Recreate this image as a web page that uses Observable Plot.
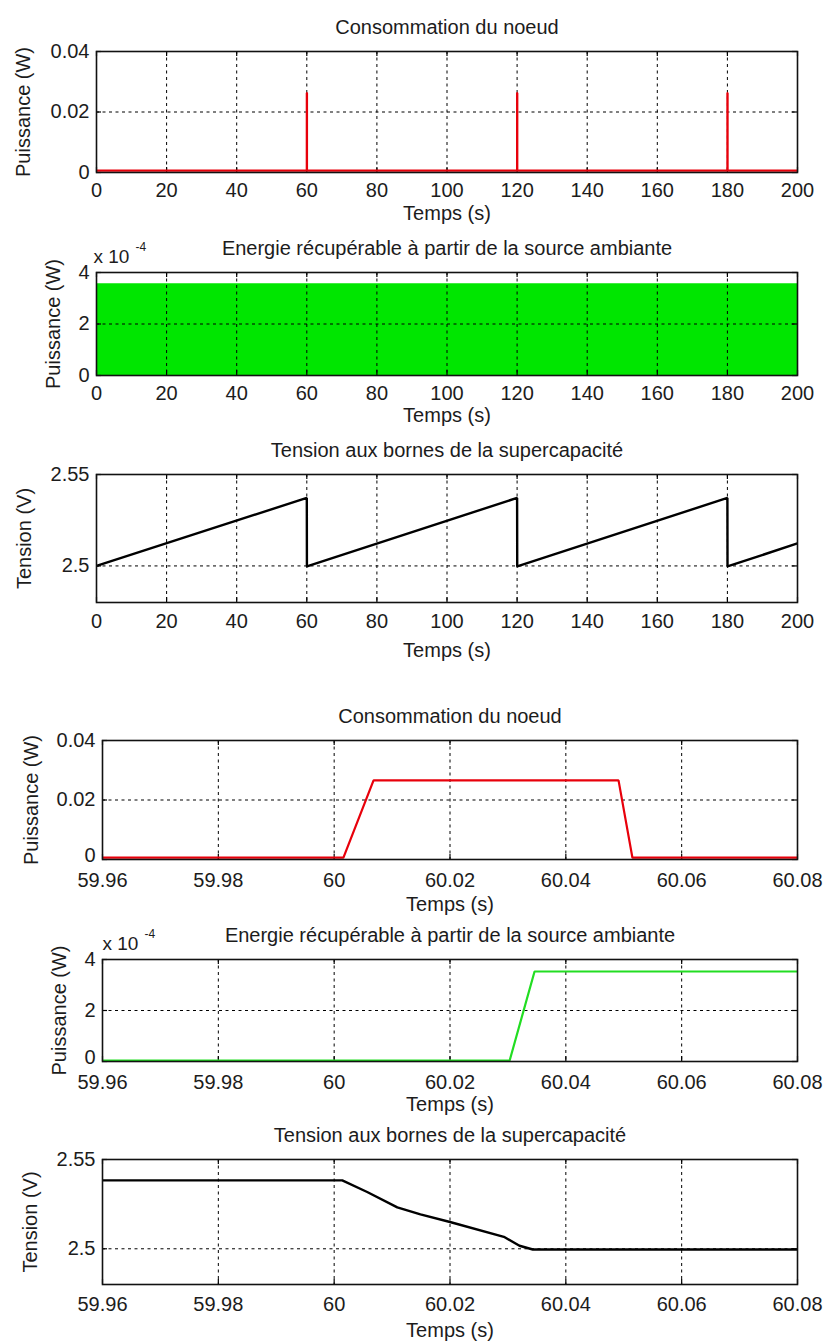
<!DOCTYPE html>
<html>
<head>
<meta charset="utf-8">
<script src="https://cdn.jsdelivr.net/npm/d3@7"></script>
<script src="https://cdn.jsdelivr.net/npm/@observablehq/plot@0.6"></script>
<style>
  html, body { margin: 0; padding: 0; background: #fff; }
  #root { position: relative; width: 824px; height: 1342px; background: #fff; overflow: hidden; }
  #root svg { position: absolute; left: 0; }
</style>
</head>
<body>
<div id="root"></div>
<script>
// ---------- DATA ----------
const titles = ["Consommation du noeud", "Energie récupérable à partir de la source ambiante", "Tension aux bornes de la supercapacité"];
const xLabel = "Temps (s)";
const yLabelP = "Puissance (W)";
const yLabelV = "Tension (V)";
const expLabelBase = "x 10";
const expLabelSup = "-4";

// Top (0–200 s) time axis
const xTicksFull = [0, 20, 40, 60, 80, 100, 120, 140, 160, 180, 200];
const xTickLabelsFull = ["0", "20", "40", "60", "80", "100", "120", "140", "160", "180", "200"];
// Zoomed (59.96–60.08 s) time axis
const xTicksZoom = [59.96, 59.98, 60, 60.02, 60.04, 60.06, 60.08];
const xTickLabelsZoom = ["59.96", "59.98", "60", "60.02", "60.04", "60.06", "60.08"];

const yTicksConso = [0, 0.02, 0.04];
const yTickLabelsConso = ["0", "0.02", "0.04"];
const yTicksHarv = [0, 0.0002, 0.0004];
const yTickLabelsHarv = ["0", "2", "4"];
const yTicksVolt = [2.5, 2.55];
const yTickLabelsVolt = ["2.5", "2.55"];

// Consommation du noeud, 0–200 s
const consoT = [0, 60.0016, 60.0068, 60.0491, 60.0515, 120.0016, 120.0068, 120.0491, 120.0515, 180.0016, 180.0068, 180.0491, 180.0515, 200];
const consoP = [0.0006, 0.0006, 0.0263, 0.0263, 0.0006, 0.0006, 0.0263, 0.0263, 0.0006, 0.0006, 0.0263, 0.0263, 0.0006, 0.0006];

// Energie récupérable, 0–200 s (dense switching -> filled band)
const harvT = [0, 200];
const harvP = [0.000356, 0.000356];

// Tension supercapacité, 0–200 s
const voltT = [0, 60, 60.035, 120, 120.035, 180, 180.035, 200];
const voltV = [2.5, 2.5372, 2.4997, 2.5372, 2.4997, 2.5372, 2.4997, 2.5123];

// Zoomed: consommation
const consoZT = [59.96, 60.0016, 60.0068, 60.0491, 60.0515, 60.08];
const consoZP = [0.0006, 0.0006, 0.0266, 0.0266, 0.0006, 0.0006];

// Zoomed: énergie récupérable
const harvZT = [59.96, 60.0303, 60.0346, 60.08];
const harvZP = [0.000004, 0.000004, 0.000353, 0.000353];

// Zoomed: tension
const voltZT = [59.96, 60.0014, 60.0057, 60.0109, 60.0149, 60.02, 60.0293, 60.032, 60.0343, 60.08];
const voltZV = [2.5383, 2.5383, 2.5318, 2.5232, 2.5193, 2.515, 2.5067, 2.5017, 2.4996, 2.4996];

// ---------- DRAWING ----------
const FONT = "'Liberation Sans', Arial, Helvetica, sans-serif";
const FS = 20;
const INK = "#1c1c1c";

function zip(ts, vs) { return ts.map((t, i) => ({t, v: vs[i]})); }

function panel(cfg) {
  const {top, height, mt, mb, ml, mr, xDomain, yDomain, xTicks, xTickLabels, yTicks, yTickLabels,
         title, ylabel, ylabelDx, tickDy, xlabDy, exp, expDx, zeroLift = 0, series} = cfg;
  const W = 824;
  const frameH = height - mt - mb;
  const frameW = W - ml - mr;
  const marks = [];
  for (const s of series) {
    if (s.type === "area") marks.push(Plot.areaY(s.data, {x: "t", y: "v", fill: s.color, clip: true}));
  }
  // grid
  marks.push(Plot.ruleX(xTicks, {x: d => d, stroke: "#000", strokeWidth: 1, strokeDasharray: "3,3.5"}));
  marks.push(Plot.ruleY(yTicks, {y: d => d, stroke: "#000", strokeWidth: 1, strokeDasharray: "3,3.5"}));
  // inward ticks
  marks.push(Plot.tickX(xTicks, {x: d => d, insetTop: frameH - 5, stroke: "#000", strokeWidth: 1.2}));
  marks.push(Plot.tickX(xTicks, {x: d => d, insetBottom: frameH - 5, stroke: "#000", strokeWidth: 1.2}));
  marks.push(Plot.tickY(yTicks, {y: d => d, insetRight: frameW - 5, stroke: "#000", strokeWidth: 1.2}));
  marks.push(Plot.tickY(yTicks, {y: d => d, insetLeft: frameW - 5, stroke: "#000", strokeWidth: 1.2}));
  for (const s of series) {
    if (s.type === "line") marks.push(Plot.line(s.data, {x: "t", y: "v", stroke: s.color, strokeWidth: s.width, strokeLinejoin: "miter", clip: true}));
  }
  marks.push(Plot.frame({stroke: "#111", strokeWidth: 1.6}));
  // tick labels
  marks.push(Plot.text(xTicks, {x: d => d, text: (d, i) => xTickLabels[i], frameAnchor: "bottom", dy: tickDy, lineAnchor: "middle", textAnchor: "middle", fontSize: FS, fill: INK}));
  const yIdx = yTicks.map((d, i) => i);
  marks.push(Plot.text(yIdx.filter(i => i > 0), {y: i => yTicks[i], text: i => yTickLabels[i], frameAnchor: "left", dx: -7, lineAnchor: "middle", textAnchor: "end", fontSize: FS, fill: INK}));
  marks.push(Plot.text([0], {y: i => yTicks[i], text: i => yTickLabels[i], frameAnchor: "left", dx: -7, dy: -zeroLift, lineAnchor: "middle", textAnchor: "end", fontSize: FS, fill: INK}));
  // axis labels and title
  marks.push(Plot.text([xLabel], {text: d => d, frameAnchor: "bottom", dy: xlabDy, lineAnchor: "middle", fontSize: FS, fill: INK}));
  marks.push(Plot.text([ylabel], {text: d => d, frameAnchor: "left", dx: ylabelDx, rotate: -90, lineAnchor: "middle", textAnchor: "middle", fontSize: FS, fill: INK}));
  marks.push(Plot.text([title], {text: d => d, frameAnchor: "top", dy: -24, lineAnchor: "middle", fontSize: FS, fill: INK}));
  if (exp) {
    marks.push(Plot.text([expLabelBase], {text: d => d, frameAnchor: "top-left", dx: expDx, dy: -16, lineAnchor: "middle", textAnchor: "start", fontSize: 19, fill: INK}));
    marks.push(Plot.text([expLabelSup], {text: d => d, frameAnchor: "top-left", dx: expDx + 42, dy: -25, lineAnchor: "middle", textAnchor: "start", fontSize: 12, fill: INK}));
  }
  const svg = Plot.plot({
    width: W, height,
    marginTop: mt, marginBottom: mb, marginLeft: ml, marginRight: mr,
    x: {domain: xDomain, axis: null},
    y: {domain: yDomain, axis: null},
    style: {fontFamily: FONT, fontSize: FS + "px", color: INK, background: "transparent", overflow: "visible"},
    marks
  });
  svg.style.top = top + "px";
  document.getElementById("root").appendChild(svg);
}

const fullX = {xDomain: [0, 200], xTicks: xTicksFull, xTickLabels: xTickLabelsFull, ml: 96, mr: 27};
const zoomX = {xDomain: [59.96, 60.08], xTicks: xTicksZoom, xTickLabels: xTickLabelsZoom, ml: 102, mr: 27};

panel({...fullX, top: 0, height: 225, mt: 51, mb: 53,
  yDomain: [0, 0.04], yTicks: yTicksConso, yTickLabels: yTickLabelsConso,
  title: titles[0], ylabel: yLabelP, ylabelDx: -73, tickDy: 18, xlabDy: 41,
  series: [{type: "line", data: zip(consoT, consoP), color: "#e8000b", width: 2.2}]});

panel({...fullX, top: 225, height: 200, mt: 47, mb: 50,
  yDomain: [0, 0.0004], yTicks: yTicksHarv, yTickLabels: yTickLabelsHarv,
  title: titles[1], ylabel: yLabelP, ylabelDx: -43, tickDy: 18, xlabDy: 40, exp: true, expDx: -3,
  series: [{type: "area", data: zip(harvT, harvP), color: "#00e600"}]});

panel({...fullX, top: 425, height: 245, mt: 49, mb: 68,
  yDomain: [2.48, 2.55], yTicks: yTicksVolt, yTickLabels: yTickLabelsVolt,
  title: titles[2], ylabel: yLabelV, ylabelDx: -72, tickDy: 19, xlabDy: 48,
  series: [{type: "line", data: zip(voltT, voltV), color: "#000", width: 2.4}]});

panel({...zoomX, top: 670, height: 240, mt: 70, mb: 51,
  yDomain: [0, 0.04], yTicks: yTicksConso, yTickLabels: yTickLabelsConso,
  title: titles[0], ylabel: yLabelP, ylabelDx: -71, tickDy: 21, xlabDy: 45, zeroLift: 4,
  series: [{type: "line", data: zip(consoZT, consoZP), color: "#e8000b", width: 2.2}]});

panel({...zoomX, top: 910, height: 205, mt: 49, mb: 54,
  yDomain: [0, 0.0004], yTicks: yTicksHarv, yTickLabels: yTickLabelsHarv,
  title: titles[1], ylabel: yLabelP, ylabelDx: -43, tickDy: 21, xlabDy: 43, zeroLift: 4, exp: true, expDx: 0,
  series: [{type: "line", data: zip(harvZT, harvZP), color: "#22dd22", width: 2.2}]});

panel({...zoomX, top: 1115, height: 227, mt: 44, mb: 58,
  yDomain: [2.48, 2.55], yTicks: yTicksVolt, yTickLabels: yTickLabelsVolt,
  title: titles[2], ylabel: yLabelV, ylabelDx: -72, tickDy: 20, xlabDy: 46,
  series: [{type: "line", data: zip(voltZT, voltZV), color: "#000", width: 2.4}]});
</script>
</body>
</html>
